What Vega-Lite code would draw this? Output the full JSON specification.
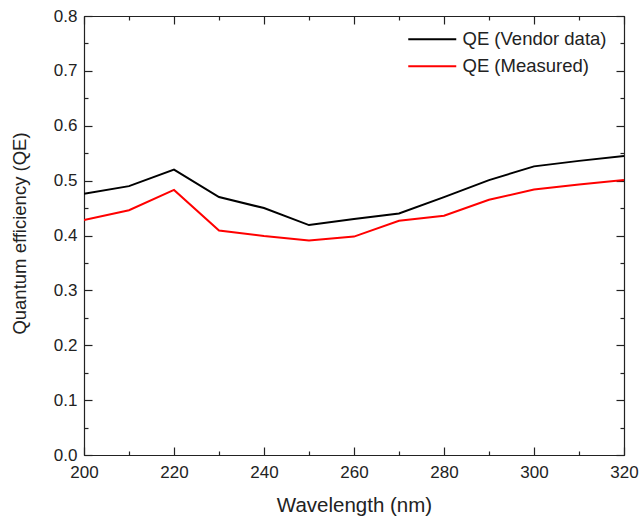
{
  "$schema": "https://vega.github.io/schema/vega-lite/v6.json",
  "width": 540,
  "height": 439,
  "autosize": {"type": "none"},
  "padding": {"left": 84, "top": 16, "right": 15, "bottom": 62},
  "background": "white",
  "config": {
    "font": "Liberation Sans",
    "view": {"stroke": "#222", "strokeWidth": 1},
    "axis": {
      "grid": false,
      "domainColor": "#222",
      "domainWidth": 1.2,
      "tickColor": "#222",
      "tickWidth": 1.2,
      "labelColor": "#222",
      "titleColor": "#222",
      "labelFont": "Liberation Sans",
      "titleFont": "Liberation Sans",
      "labelFontSize": 17,
      "titleFontSize": 18.5,
      "titleFontWeight": "normal",
      "labelFlush": false
    }
  },
  "data": {
    "values": [
      {"wavelength": 200, "series": "QE (Vendor data)", "qe": 0.476},
      {"wavelength": 210, "series": "QE (Vendor data)", "qe": 0.490},
      {"wavelength": 220, "series": "QE (Vendor data)", "qe": 0.520},
      {"wavelength": 230, "series": "QE (Vendor data)", "qe": 0.470},
      {"wavelength": 240, "series": "QE (Vendor data)", "qe": 0.450},
      {"wavelength": 250, "series": "QE (Vendor data)", "qe": 0.419},
      {"wavelength": 260, "series": "QE (Vendor data)", "qe": 0.430},
      {"wavelength": 270, "series": "QE (Vendor data)", "qe": 0.440},
      {"wavelength": 280, "series": "QE (Vendor data)", "qe": 0.470},
      {"wavelength": 290, "series": "QE (Vendor data)", "qe": 0.501},
      {"wavelength": 300, "series": "QE (Vendor data)", "qe": 0.526},
      {"wavelength": 310, "series": "QE (Vendor data)", "qe": 0.536},
      {"wavelength": 320, "series": "QE (Vendor data)", "qe": 0.545},
      {"wavelength": 200, "series": "QE (Measured)", "qe": 0.428},
      {"wavelength": 210, "series": "QE (Measured)", "qe": 0.446},
      {"wavelength": 220, "series": "QE (Measured)", "qe": 0.483},
      {"wavelength": 230, "series": "QE (Measured)", "qe": 0.409},
      {"wavelength": 240, "series": "QE (Measured)", "qe": 0.399},
      {"wavelength": 250, "series": "QE (Measured)", "qe": 0.391},
      {"wavelength": 260, "series": "QE (Measured)", "qe": 0.398},
      {"wavelength": 270, "series": "QE (Measured)", "qe": 0.427},
      {"wavelength": 280, "series": "QE (Measured)", "qe": 0.436},
      {"wavelength": 290, "series": "QE (Measured)", "qe": 0.465},
      {"wavelength": 300, "series": "QE (Measured)", "qe": 0.484},
      {"wavelength": 310, "series": "QE (Measured)", "qe": 0.493},
      {"wavelength": 320, "series": "QE (Measured)", "qe": 0.501}
    ]
  },
  "layer": [
    {
      "mark": {"type": "line", "strokeWidth": 2, "clip": true},
      "encoding": {
        "x": {
          "field": "wavelength", "type": "quantitative",
          "scale": {"domain": [200, 320], "nice": false, "zero": false},
          "axis": {
            "orient": "bottom",
            "title": "Wavelength (nm)",
            "titleFontSize": 20.5,
            "values": [200, 210, 220, 230, 240, 250, 260, 270, 280, 290, 300, 310, 320],
            "labelExpr": "datum.value % 20 == 0 ? datum.label : ''",
            "tickSize": {"condition": {"test": "datum.value % 20 == 0", "value": -8}, "value": -4},
            "labelPadding": 17,
            "titleX": 270,
            "titleY": 56,
            "titleBaseline": "alphabetic"
          }
        },
        "y": {
          "field": "qe", "type": "quantitative",
          "scale": {"domain": [0, 0.8], "nice": false},
          "axis": {
            "orient": "left",
            "title": "Quantum efficiency (QE)",
            "values": [0, 0.05, 0.1, 0.15, 0.2, 0.25, 0.3, 0.35, 0.4, 0.45, 0.5, 0.55, 0.6, 0.65, 0.7, 0.75, 0.8],
            "format": ".1f",
            "labelExpr": "abs(datum.value * 10 - round(datum.value * 10)) < 0.001 ? datum.label : ''",
            "tickSize": {"condition": {"test": "abs(datum.value * 10 - round(datum.value * 10)) < 0.001", "value": -8}, "value": -4},
            "labelPadding": 15,
            "titleX": -65,
            "titleY": 217,
            "titleBaseline": "middle"
          }
        },
        "color": {
          "field": "series", "type": "nominal",
          "scale": {"domain": ["QE (Vendor data)", "QE (Measured)"], "range": ["#000000", "#ff0000"]},
          "legend": {
            "title": null,
            "orient": "none",
            "legendX": 339,
            "legendY": 14,
            "symbolType": "M-4,0H4",
            "symbolSize": 144,
            "symbolStrokeWidth": 2,
            "labelFontSize": 18.5,
            "labelFont": "Liberation Sans",
            "labelColor": "#222",
            "labelOffset": 21,
            "rowPadding": 8,
            "padding": 0
          }
        }
      }
    },
    {
      "mark": {"type": "line", "strokeOpacity": 0},
      "encoding": {
        "x": {
          "field": "wavelength", "type": "quantitative",
          "axis": {
            "orient": "top",
            "title": null,
            "labels": false,
            "values": [200, 210, 220, 230, 240, 250, 260, 270, 280, 290, 300, 310, 320],
            "tickSize": {"condition": {"test": "datum.value % 20 == 0", "value": -8}, "value": -4}
          }
        },
        "y": {
          "field": "qe", "type": "quantitative",
          "axis": {
            "orient": "right",
            "title": null,
            "labels": false,
            "values": [0, 0.05, 0.1, 0.15, 0.2, 0.25, 0.3, 0.35, 0.4, 0.45, 0.5, 0.55, 0.6, 0.65, 0.7, 0.75, 0.8],
            "tickSize": {"condition": {"test": "abs(datum.value * 10 - round(datum.value * 10)) < 0.001", "value": -8}, "value": -4}
          }
        },
        "detail": {"field": "series", "type": "nominal"}
      }
    }
  ],
  "resolve": {"axis": {"x": "independent", "y": "independent"}}
}
